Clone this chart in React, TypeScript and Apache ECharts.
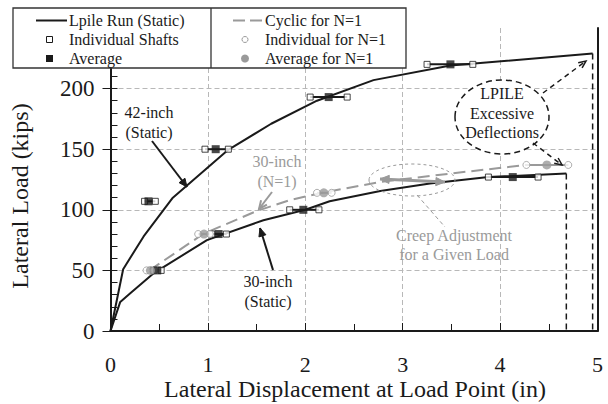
import React, { useEffect, useRef } from "react";
import * as echarts from "echarts";

// ---- data (displacement in inches, load in kips) ----
const static42Disp = [0, 0.13, 0.34, 0.64, 1.2, 1.65, 2.12, 2.7, 3.49, 4.95];
const static42Load = [0, 51, 78, 110, 149, 171, 190, 207, 219, 229];
const static30Disp = [0, 0.1, 0.2, 0.44, 0.99, 1.57, 2.0, 2.25, 2.77, 3.28, 3.88, 4.68];
const static30Load = [0, 24, 31, 47.5, 75, 91.4, 100, 107, 115.5, 121.7, 127, 130];
const cyclicDisp = [0.4, 0.95, 1.5, 1.84, 2.2, 2.77, 3.5, 4.27, 4.7];
const cyclicLoad = [50, 80, 99, 108, 114.5, 123, 130, 137, 137];

// test groups: load level, [individual min, average, individual max]
const staticGroupLoads = [107, 150, 193, 220, 50, 80, 100, 127];
const staticGroupDisp = [
  [0.35, 0.39, 0.46],
  [0.97, 1.08, 1.21],
  [2.05, 2.24, 2.43],
  [3.25, 3.49, 3.72],
  [0.44, 0.48, 0.52],
  [1.04, 1.11, 1.19],
  [1.84, 1.98, 2.14],
  [3.88, 4.13, 4.39],
];
const cyclicGroupLoads = [50, 80, 114, 137];
const cyclicGroupDisp = [
  [0.37, 0.41, 0.45],
  [0.9, 0.96, 1.02],
  [2.12, 2.19, 2.27],
  [4.27, 4.48, 4.7],
];
const limit30 = [4.68, 130];
const limit42 = [4.95, 229];
const yTicks = [0, 50, 100, 150, 200];
const xTicks = [0, 1, 2, 3, 4, 5];
const xTitle = "Lateral Displacement at Load Point (in)";
const yTitle = "Lateral Load (kips)";

const FONT = "'Liberation Serif', 'Times New Roman', 'DejaVu Serif', serif";
const GRAY = "#9a9a9a";
const BLACK = "#1a1a1a";

const zip = (a: number[], b: number[]) => a.map((v, i) => [v, b[i]]);

function arrow(x1: number, y1: number, x2: number, y2: number, color: string, opts: any = {}) {
  const w = opts.width ?? 1.5;
  const L = opts.head ?? 9;
  const spread = 0.42;
  const els: any[] = [
    {
      type: "line",
      shape: { x1, y1, x2, y2 },
      style: { stroke: color, lineWidth: w, lineDash: opts.dash ?? null },
      z: 50,
    },
  ];
  const heads = opts.both ? [[x2, y2, x1, y1], [x1, y1, x2, y2]] : [[x1, y1, x2, y2]];
  heads.forEach(([ax, ay, bx, by]) => {
    const a = Math.atan2(by - ay, bx - ax);
    const p1 = [bx - L * Math.cos(a - spread), by - L * Math.sin(a - spread)];
    const p2 = [bx - L * Math.cos(a + spread), by - L * Math.sin(a + spread)];
    if (opts.open) {
      els.push({
        type: "polyline",
        shape: { points: [p1, [bx, by], p2] },
        style: { stroke: color, lineWidth: w, fill: null },
        z: 50,
      });
    } else {
      els.push({
        type: "polygon",
        shape: { points: [p1, [bx, by], p2] },
        style: { fill: color, stroke: color, lineWidth: 1 },
        z: 50,
      });
    }
  });
  return els;
}

function text(t: string, x: number, y: number, color: string, lh = 20, size = 16, rotation = 0) {
  return {
    type: "text",
    x,
    y,
    rotation,
    z: 50,
    style: {
      text: t,
      fill: color,
      fontSize: size,
      fontFamily: FONT,
      align: "center",
      verticalAlign: "middle",
      lineHeight: lh,
    },
  };
}

export default function App() {
  const ref = useRef<HTMLDivElement>(null);
  useEffect(() => {
    if (!ref.current) return;
    const chart = echarts.init(ref.current, undefined, { renderer: "svg" });

    const groupSeries: any[] = [];
    staticGroupDisp.forEach((xs, i) => {
      groupSeries.push({
        type: "line",
        data: [[xs[0], staticGroupLoads[i]], [xs[2], staticGroupLoads[i]]],
        symbol: "none",
        lineStyle: { color: BLACK, width: 2 },
        z: 3,
        silent: true,
      });
    });
    cyclicGroupDisp.forEach((xs, i) => {
      groupSeries.push({
        type: "line",
        data: [[xs[0], cyclicGroupLoads[i]], [xs[2], cyclicGroupLoads[i]]],
        symbol: "none",
        lineStyle: { color: GRAY, width: 2 },
        z: 3,
        silent: true,
      });
    });

    const staticInd: number[][] = [];
    const staticAvg: number[][] = [];
    staticGroupDisp.forEach((xs, i) => {
      staticInd.push([xs[0], staticGroupLoads[i]], [xs[2], staticGroupLoads[i]]);
      staticAvg.push([xs[1], staticGroupLoads[i]]);
    });
    const cycInd: number[][] = [];
    const cycAvg: number[][] = [];
    cyclicGroupDisp.forEach((xs, i) => {
      cycInd.push([xs[0], cyclicGroupLoads[i]], [xs[2], cyclicGroupLoads[i]]);
      cycAvg.push([xs[1], cyclicGroupLoads[i]]);
    });

    const legendX = 13, legendY = 8, legendW = 393, legendH = 60;
    const rows = [20.5, 39.5, 58.5];
    const legendEls: any[] = [
      {
        type: "rect",
        shape: { x: legendX, y: legendY, width: legendW, height: legendH },
        style: { fill: "#fff", stroke: "#333", lineWidth: 1.3 },
        z: 90,
      },
      {
        type: "line",
        shape: { x1: 211, y1: legendY, x2: 211, y2: legendY + legendH },
        style: { stroke: "#333", lineWidth: 1.3 },
        z: 91,
      },
      { type: "line", shape: { x1: 36, y1: rows[0], x2: 67, y2: rows[0] }, style: { stroke: BLACK, lineWidth: 2 }, z: 91 },
      { type: "rect", shape: { x: 46.5, y: rows[1] - 3, width: 6, height: 6 }, style: { fill: "#fff", stroke: BLACK, lineWidth: 1 }, z: 91 },
      { type: "rect", shape: { x: 46, y: rows[2] - 3.5, width: 7, height: 7 }, style: { fill: BLACK }, z: 91 },
      { type: "line", shape: { x1: 233, y1: rows[0], x2: 262, y2: rows[0] }, style: { stroke: GRAY, lineWidth: 2, lineDash: [12, 5] }, z: 91 },
      { type: "circle", shape: { cx: 245, cy: rows[1], r: 3 }, style: { fill: "#fff", stroke: GRAY, lineWidth: 1 }, z: 91 },
      { type: "circle", shape: { cx: 245, cy: rows[2], r: 4 }, style: { fill: GRAY }, z: 91 },
    ];
    const legendLabels = [
      ["Lpile Run (Static)", 69, rows[0]],
      ["Individual Shafts", 69, rows[1]],
      ["Average", 69, rows[2]],
      ["Cyclic for N=1", 265, rows[0]],
      ["Individual for N=1", 265, rows[1]],
      ["Average for N=1", 265, rows[2]],
    ];
    legendLabels.forEach(([t, x, y]) => {
      legendEls.push({
        type: "text",
        x,
        y,
        z: 92,
        style: { text: t, fill: BLACK, fontSize: 16, fontFamily: FONT, align: "left", verticalAlign: "middle" },
      });
    });

    const annot: any[] = [
      text("42-inch\n(Static)", 149, 122, BLACK),
      ...arrow(152, 141, 187, 187, BLACK, { width: 2 }),
      text("30-inch\n(N=1)", 277, 171, GRAY),
      ...arrow(272, 192, 259, 209, GRAY, { width: 2, open: true }),
      text("30-inch\n(Static)", 268, 291, BLACK),
      ...arrow(273, 270, 260, 228, BLACK, { width: 2 }),
      {
        type: "ellipse",
        shape: { cx: 412, cy: 180, rx: 43, ry: 16 },
        style: { fill: null, stroke: GRAY, lineWidth: 1, lineDash: [3, 3] },
        z: 50,
      },
      ...arrow(380, 179, 445, 182, GRAY, { width: 3, both: true, head: 10 }),
      {
        type: "line",
        shape: { x1: 417, y1: 195, x2: 445, y2: 227 },
        style: { stroke: GRAY, lineWidth: 1, lineDash: [4, 3] },
        z: 50,
      },
      text("Creep Adjustment\nfor a Given Load", 454, 244.5, GRAY, 19),
      {
        type: "ellipse",
        shape: { cx: 502, cy: 117, rx: 47, ry: 37 },
        style: { fill: "#fff", stroke: BLACK, lineWidth: 1.5, lineDash: [6, 4] },
        z: 49,
      },
      text("LPILE\nExcessive\nDeflections", 502, 113, BLACK, 19.7),
      ...arrow(543, 93, 586, 61, BLACK, { width: 1.5, dash: [5, 4], open: true, head: 8 }),
      ...arrow(533, 143, 562, 165, BLACK, { width: 1.5, dash: [5, 4], open: true, head: 8 }),
      text(yTitle, 20, 196, BLACK, 24, 24, Math.PI / 2),
      text(xTitle, 355, 389, BLACK, 24, 24),
    ];

    const yCommon = { type: "value", min: 0, max: 250, interval: 50 };

    chart.setOption({
      animation: false,
      backgroundColor: "#fff",
      textStyle: { fontFamily: FONT },
      grid: { left: 110.5, right: 10.5, top: 28, bottom: 73, outerBoundsMode: "none", containLabel: false },
      xAxis: {
        type: "value",
        min: xTicks[0],
        max: xTicks[xTicks.length - 1],
        interval: 1,
        axisLine: { lineStyle: { color: BLACK, width: 2 } },
        axisTick: { inside: true, length: 8, lineStyle: { color: BLACK, width: 1 } },
        minorTick: { show: true, splitNumber: 2, length: 7, lineStyle: { color: BLACK, width: 1 } },
        axisLabel: { fontSize: 22, lineHeight: 22, color: BLACK, margin: 22, fontFamily: FONT },
        splitLine: {
          show: true,
          showMinLine: false,
          showMaxLine: false,
          lineStyle: { color: "#b8b8b8", type: [5, 3], width: 1 },
        },
      },
      yAxis: [
        {
          ...yCommon,
          position: "left",
          axisLine: { show: true, lineStyle: { color: BLACK, width: 2 } },
          axisTick: { show: true, inside: false, length: 8, lineStyle: { color: BLACK, width: 1 } },
          axisLabel: {
            fontSize: 23,
            color: BLACK,
            margin: 16,
            fontFamily: FONT,
            formatter: (v: number) => (yTicks.includes(v) ? String(v) : ""),
          },
          splitLine: {
            show: true,
            showMinLine: false,
            showMaxLine: false,
            lineStyle: { color: "#b8b8b8", type: [5, 3], width: 1 },
          },
        },
        {
          ...yCommon,
          position: "left",
          axisLine: { show: false },
          axisTick: { show: true, inside: true, length: 7, lineStyle: { color: BLACK, width: 1 } },
          minorTick: { show: true, splitNumber: 5, length: 7, lineStyle: { color: BLACK, width: 1 } },
          axisLabel: { show: false },
          splitLine: { show: false },
        },
        {
          ...yCommon,
          position: "right",
          axisLine: { show: true, lineStyle: { color: BLACK, width: 2 } },
          axisTick: { show: false },
          axisLabel: { show: false },
          splitLine: { show: false },
        },
      ],
      series: [
        {
          name: "Lpile Run (Static) 42-inch",
          type: "line",
          data: zip(static42Disp, static42Load),
          symbol: "none",
          lineStyle: { color: BLACK, width: 2 },
          z: 4,
        },
        {
          name: "Lpile Run (Static) 30-inch",
          type: "line",
          data: zip(static30Disp, static30Load),
          symbol: "none",
          lineStyle: { color: BLACK, width: 2 },
          z: 4,
        },
        {
          name: "Cyclic for N=1",
          type: "line",
          data: zip(cyclicDisp, cyclicLoad),
          symbol: "none",
          lineStyle: { color: GRAY, width: 2, type: [12, 6] },
          z: 4,
        },
        {
          type: "line",
          data: [[limit30[0], limit30[1]], [limit30[0], 0]],
          symbol: "none",
          lineStyle: { color: BLACK, width: 1.5, type: [6, 4] },
          z: 4,
        },
        {
          type: "line",
          data: [[limit42[0], limit42[1]], [limit42[0], 0]],
          symbol: "none",
          lineStyle: { color: BLACK, width: 1.5, type: [6, 4] },
          z: 4,
        },
        ...groupSeries,
        {
          name: "Individual Shafts",
          type: "scatter",
          data: staticInd,
          symbol: "rect",
          symbolSize: 6,
          itemStyle: { color: "#fff", borderColor: BLACK, borderWidth: 1 },
          z: 6,
        },
        {
          name: "Average",
          type: "scatter",
          data: staticAvg,
          symbol: "rect",
          symbolSize: 8,
          itemStyle: { color: BLACK },
          z: 7,
        },
        {
          name: "Individual for N=1",
          type: "scatter",
          data: cycInd,
          symbol: "circle",
          symbolSize: 7,
          itemStyle: { color: "#fff", borderColor: GRAY, borderWidth: 1 },
          z: 6,
        },
        {
          name: "Average for N=1",
          type: "scatter",
          data: cycAvg,
          symbol: "circle",
          symbolSize: 9,
          itemStyle: { color: GRAY },
          z: 7,
        },
      ],
      graphic: [...annot, ...legendEls],
    });
    return () => chart.dispose();
  }, []);
  return (
    <div
      ref={ref}
      style={{ position: "absolute", left: 0, top: 0, width: 608, height: 404 }}
    />
  );
}
